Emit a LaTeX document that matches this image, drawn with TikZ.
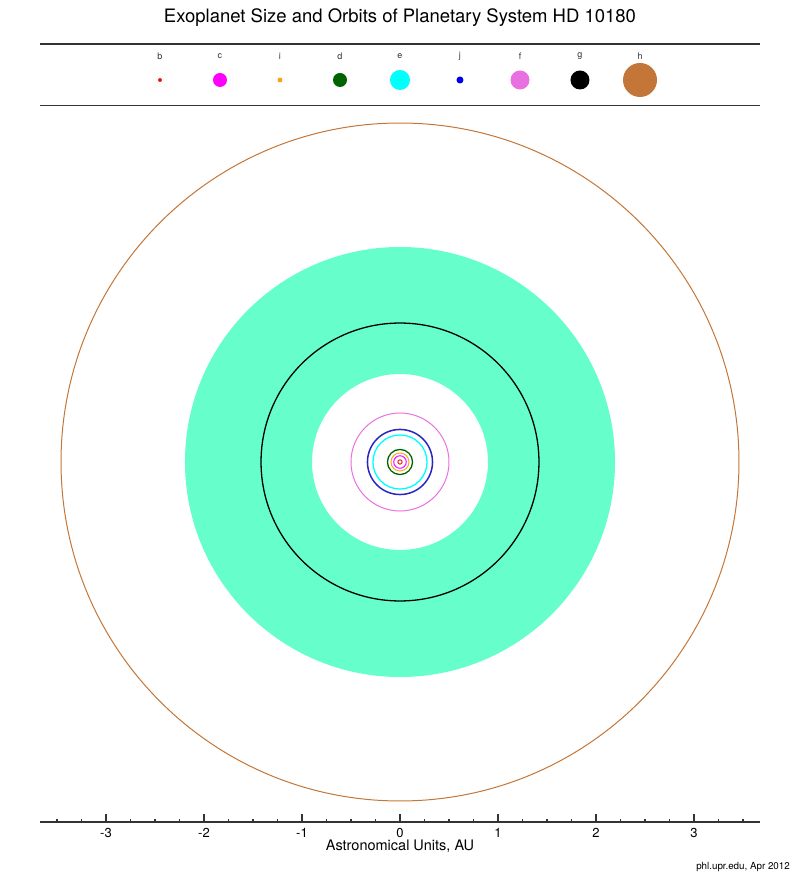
\documentclass[tikz,border=0pt]{standalone}
\usepackage{fontspec}
\setmainfont{TeX Gyre Heros}
\definecolor{hzgreen}{RGB}{102,255,204}
\definecolor{colb}{RGB}{224,32,32}
\definecolor{colc}{RGB}{255,0,255}
\definecolor{coli}{RGB}{245,166,35}
\definecolor{cold}{RGB}{0,100,0}
\definecolor{cole}{RGB}{0,255,255}
\definecolor{colj}{RGB}{0,0,230}
\definecolor{orbj}{RGB}{40,40,190}
\definecolor{colf}{RGB}{232,112,224}
\definecolor{colh}{RGB}{196,118,56}
\definecolor{rulegray}{RGB}{51,51,51}

\begin{document}
\begin{tikzpicture}[x=98pt, y=98pt,
		plabel/.style={font=\fontsize{9}{10}\selectfont, text=black!80},
		ticklab/.style={font=\fontsize{13}{15}\selectfont},
		orbit/.style={line width=1pt}]
			%%%%% START %%%%%
			\useasboundingbox (-4.0816, -4.2653) rectangle (4.0816, 4.7143);
			
			\node[font=\fontsize{18.5}{22}\selectfont] (title) at (0, 4.5306) {Exoplanet Size and Orbits of Planetary System HD 10180};
			
			\draw[line width=1.5pt, color=rulegray] (-3.6735, 4.2653) -- (3.6735, 4.2653);
			\draw[line width=1.5pt, color=rulegray] (-3.6735, 3.6378) -- (3.6735, 3.6378);
			
			\node[plabel] (lb) at (-2.4490, 4.1429) {b};
			\node[plabel] (lc) at (-1.8367, 4.1429) {c};
			\node[plabel] (li) at (-1.2245, 4.1429) {i};
			\node[plabel] (ld) at (-0.6122, 4.1429) {d};
			\node[plabel] (le) at (0, 4.1429) {e};
			\node[plabel] (lj) at (0.6122, 4.1429) {j};
			\node[plabel] (lf) at (1.2245, 4.1429) {f};
			\node[plabel] (lg) at (1.8367, 4.1429) {g};
			\node[plabel] (lh) at (2.4490, 4.1429) {h};
			
			\fill[colb] (-2.4490, 3.8980) circle (2pt);
			\fill[colc] (-1.8367, 3.8980) circle (7pt);
			\fill[coli] (-1.2245, 3.8980) circle (2.5pt);
			\fill[cold] (-0.6122, 3.8980) circle (7pt);
			\fill[cole] (0, 3.8980) circle (10pt);
			\fill[colj] (0.6122, 3.8980) circle (3.5pt);
			\fill[colf] (1.2245, 3.8980) circle (9.5pt);
			\fill[black] (1.8367, 3.8980) circle (9.5pt);
			\fill[colh] (2.4490, 3.8980) circle (17pt);
			
			% habitable zone
			\fill[hzgreen, even odd rule] (0, 0) circle (2.194) (0, 0) circle (0.898);
			
			\draw[orbit, color=colh] (0, 0) circle (3.459);
			\draw[orbit, line width=1.3pt, color=black] (0, 0) circle (1.418);
			\draw[orbit, color=colf] (0, 0) circle (0.500);
			\draw[orbit, line width=1.5pt, color=orbj] (0, 0) circle (0.332);
			\draw[orbit, line width=1.3pt, color=cole] (0, 0) circle (0.276);
			\draw[orbit, line width=1.3pt, color=cold] (0, 0) circle (0.128);
			\draw[orbit, color=coli] (0, 0) circle (0.092);
			\draw[orbit, color=colc] (0, 0) circle (0.064);
			\draw[orbit, color=colb] (0, 0) circle (0.022);
			
			% axis
			\draw[line width=1.3pt, color=rulegray] (-3.6735, -3.6735) -- (3.6735, -3.6735);
			\draw[line width=1.2pt, color=rulegray] (-3, -3.6735) -- ++(0, 0.0816) (-2, -3.6735) -- ++(0, 0.0816) (-1, -3.6735) -- ++(0, 0.0816) (0, -3.6735) -- ++(0, 0.0816) (1, -3.6735) -- ++(0, 0.0816) (2, -3.6735) -- ++(0, 0.0816) (3, -3.6735) -- ++(0, 0.0816);
			\draw[line width=1.2pt, color=rulegray] (-3.5, -3.6735) -- ++(0, 0.035) (-3.25, -3.6735) -- ++(0, 0.035) (-2.75, -3.6735) -- ++(0, 0.035) (-2.5, -3.6735) -- ++(0, 0.035) (-2.25, -3.6735) -- ++(0, 0.035) (-1.75, -3.6735) -- ++(0, 0.035) (-1.5, -3.6735) -- ++(0, 0.035) (-1.25, -3.6735) -- ++(0, 0.035) (-0.75, -3.6735) -- ++(0, 0.035) (-0.5, -3.6735) -- ++(0, 0.035) (-0.25, -3.6735) -- ++(0, 0.035);
			\draw[line width=1.2pt, color=rulegray] (3.5, -3.6735) -- ++(0, 0.035) (3.25, -3.6735) -- ++(0, 0.035) (2.75, -3.6735) -- ++(0, 0.035) (2.5, -3.6735) -- ++(0, 0.035) (2.25, -3.6735) -- ++(0, 0.035) (1.75, -3.6735) -- ++(0, 0.035) (1.5, -3.6735) -- ++(0, 0.035) (1.25, -3.6735) -- ++(0, 0.035) (0.75, -3.6735) -- ++(0, 0.035) (0.5, -3.6735) -- ++(0, 0.035) (0.25, -3.6735) -- ++(0, 0.035);
			
			\node[ticklab] (tm3) at (-3, -3.7857) {-3};
			\node[ticklab] (tm2) at (-2, -3.7857) {-2};
			\node[ticklab] (tm1) at (-1, -3.7857) {-1};
			\node[ticklab] (t0) at (0, -3.7857) {0};
			\node[ticklab] (t1) at (1, -3.7857) {1};
			\node[ticklab] (t2) at (2, -3.7857) {2};
			\node[ticklab] (t3) at (3, -3.7857) {3};
			
			\node[font=\fontsize{14.5}{16}\selectfont] (axtitle) at (0, -3.9184) {Astronomical Units, AU};
			
			\node[font=\fontsize{9.8}{11}\selectfont, anchor=east, inner sep=0pt] (credit) at (3.98, -4.1327) {phl.upr.edu, Apr 2012};
			
			%%%%% END %%%%%
		\end{tikzpicture}
\end{document}
